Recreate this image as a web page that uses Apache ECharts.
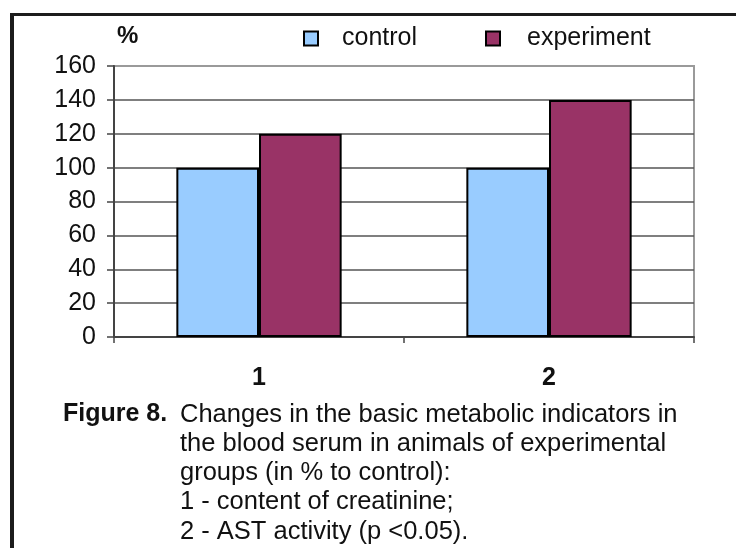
<!DOCTYPE html>
<html>
<head>
<meta charset="utf-8">
<script src="https://cdn.jsdelivr.net/npm/echarts@6/dist/echarts.min.js"></script>
<style>
html,body{margin:0;padding:0;background:#fff;}
#chart{width:736px;height:548px;}
</style>
</head>
<body>
<div id="chart"></div>
<script>
var categories = ['1', '2'];
var controlValues = [100, 100];
var experimentValues = [120, 140];
var seriesNames = ['control', 'experiment'];
var yTicks = [0, 20, 40, 60, 80, 100, 120, 140, 160];
var captionHead = 'Figure 8.';
var captionLines = [
  'Changes in the basic metabolic indicators in',
  'the blood serum in animals of experimental',
  'groups (in % to control):',
  '1 - content of creatinine;',
  '2 - AST activity (p <0.05).'
];
var yUnit = '%';

var FONT = '"Liberation Sans", Arial, sans-serif';
var chart = echarts.init(document.getElementById('chart'), null, {renderer: 'canvas'});

var graphics = [
  {type: 'rect', shape: {x: 10, y: 13, width: 4, height: 535}, style: {fill: '#1c1c1c'}, silent: true},
  {type: 'rect', shape: {x: 10, y: 13, width: 726, height: 3}, style: {fill: '#1c1c1c'}, silent: true},
  {type: 'text', left: 117, top: 24, style: {text: yUnit, font: 'bold 24px ' + FONT, fill: '#111'}},
  {type: 'text', x: 63, y: 414.5, style: {text: captionHead, font: 'bold 25px ' + FONT, fill: '#111', verticalAlign: 'middle'}}
];
captionLines.forEach(function (line, i) {
  graphics.push({type: 'text', x: 180, y: 414.5 + i * 29.25,
    style: {text: line, font: '25.5px ' + FONT, fill: '#111', verticalAlign: 'middle'}});
});

var option = {
  backgroundColor: '#fff',
  animation: false,
  textStyle: {fontFamily: FONT},
  grid: {left: 114, right: 42, top: 66, bottom: 211, show: true, borderColor: '#9a9a9a', borderWidth: 2, backgroundColor: 'transparent'},
  legend: [
    {data: [seriesNames[0]], left: 298, top: 21, itemWidth: 14, itemHeight: 14,
     itemStyle: {borderColor: '#000', borderWidth: 2},
     textStyle: {fontSize: 25, color: '#111', fontFamily: FONT, padding: [0, 0, 0, 19]}, icon: 'rect'},
    {data: [seriesNames[1]], left: 480, top: 21, itemWidth: 14, itemHeight: 14,
     itemStyle: {borderColor: '#000', borderWidth: 2},
     textStyle: {fontSize: 25, color: '#111', fontFamily: FONT, padding: [0, 0, 0, 22]}, icon: 'rect'}
  ],
  xAxis: {
    type: 'category', data: categories,
    axisLine: {lineStyle: {color: '#444', width: 2}},
    axisTick: {show: true, alignWithLabel: false, length: 6, lineStyle: {color: '#444', width: 1.5}},
    axisLabel: {fontSize: 25, fontWeight: 'bold', color: '#111', margin: 29, fontFamily: FONT},
    splitLine: {show: false}
  },
  yAxis: {
    type: 'value', min: 0, max: 160, interval: 20,
    axisLine: {show: true, lineStyle: {color: '#444', width: 2}},
    axisTick: {show: true, inside: false, length: 7, lineStyle: {color: '#444', width: 1.5}},
    axisLabel: {fontSize: 25, color: '#111', margin: 18, fontFamily: FONT,
      formatter: function (v) { return yTicks.indexOf(v) >= 0 ? String(v) : ''; }},
    splitLine: {show: true, showMaxLine: false, lineStyle: {color: '#555', width: 1.5}}
  },
  series: [
    {name: seriesNames[0], type: 'bar', data: controlValues, barGap: '0%', barCategoryGap: '43%',
     itemStyle: {color: '#99ccff', borderColor: '#000', borderWidth: 2}},
    {name: seriesNames[1], type: 'bar', data: experimentValues, barGap: '0%', barCategoryGap: '43%',
     itemStyle: {color: '#993366', borderColor: '#000', borderWidth: 2}}
  ],
  graphic: graphics
};
chart.setOption(option);
</script>
</body>
</html>
